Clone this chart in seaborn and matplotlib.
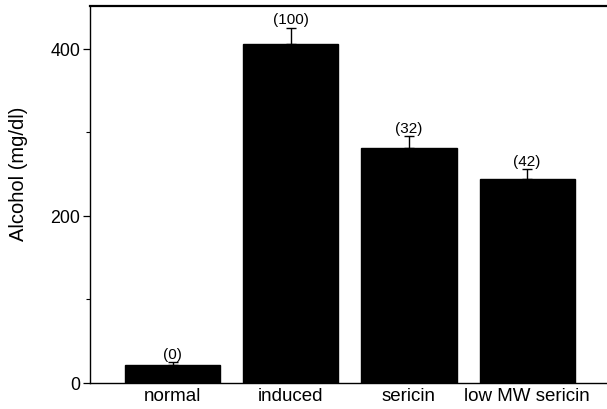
import matplotlib
matplotlib.use("Agg")
import matplotlib.pyplot as plt
import seaborn as sns
import pandas as pd
import numpy as np
from matplotlib.ticker import MultipleLocator

categories = ["normal", "induced", "sericin", "low MW sericin"]
values = [21, 405, 281, 244]
errors = [4, 20, 14, 12]
annotations = ["(0)", "(100)", "(32)", "(42)"]

sns.set_theme(style="white")
plt.rcParams["font.family"] = ["Liberation Sans", "DejaVu Sans"]
for key in ["text.color", "axes.labelcolor", "xtick.color", "ytick.color"]:
    plt.rcParams[key] = "black"

df = pd.DataFrame({"group": categories, "alcohol": values})

fig = plt.figure(figsize=(6.07, 4.10), dpi=100)
ax = fig.add_axes([90 / 607, 26 / 410, (614 - 90) / 607, (384 - 7) / 410])

sns.barplot(data=df, x="group", y="alcohol", color="black", width=0.805,
            errorbar=None, ax=ax, saturation=1, edgecolor="black")

xs = np.arange(len(categories))
ax.errorbar(xs, values, yerr=[np.zeros(len(errors)), errors], fmt="none",
            ecolor="black", elinewidth=1.0, capsize=3.5, capthick=1.0)

for x, v, e, lab in zip(xs, values, errors, annotations):
    ax.annotate(lab, xy=(x, v + e), xytext=(0, 1.0), textcoords="offset points",
                ha="center", va="bottom", fontsize=11, color="black")

ax.set_xlim(-0.7, 3.735)
ax.set_ylim(0, 451)
ax.yaxis.set_major_locator(MultipleLocator(200))
ax.yaxis.set_minor_locator(MultipleLocator(100))
ax.tick_params(axis="y", which="major", direction="out", length=5, width=0.9,
               labelsize=12.8, left=True, color="black", pad=2)
ax.tick_params(axis="y", which="minor", direction="out", length=3, width=0.8,
               left=True, color="black")
ax.tick_params(axis="x", length=0, labelsize=13.5, pad=3)
ax.set_xlabel("")
ax.set_ylabel("Alcohol (mg/dl)", fontsize=14.5, va="center")
ax.yaxis.set_label_coords(-0.1355, 0.558)

for side in ["left", "bottom", "top"]:
    ax.spines[side].set_visible(True)
    ax.spines[side].set_color("black")
    ax.spines[side].set_linewidth(1.0)
ax.spines["top"].set_linewidth(1.6)
ax.spines["right"].set_visible(False)

fig.savefig("out.png", dpi=100)
